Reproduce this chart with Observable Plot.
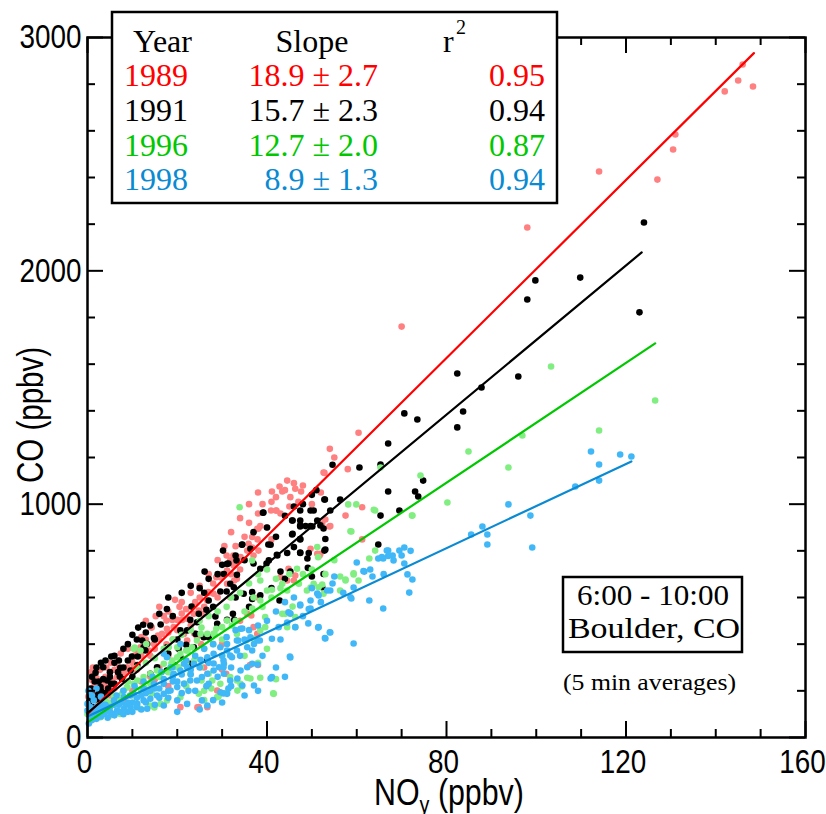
<!DOCTYPE html>
<html>
<head>
<meta charset="utf-8">
<script src="https://cdn.jsdelivr.net/npm/d3@7"></script>
<script src="https://cdn.jsdelivr.net/npm/@observablehq/plot@0.6"></script>
<style>
  html, body { margin: 0; padding: 0; background: #fff; }
  #chart { position: relative; width: 826px; height: 814px; }
</style>
</head>
<body>
<div id="chart"></div>
<script>
// ---------- DATA ----------
const years = ["1989", "1991", "1996", "1998"];
const slopeLabels = ["18.9 \u00b1 2.7", "15.7 \u00b1 2.3", "12.7 \u00b1 2.0", "8.9 \u00b1 1.3"];
const r2Labels = ["0.95", "0.94", "0.87", "0.94"];
const lineColors = ["#ff0000", "#000000", "#00c800", "#0a8ad2"];
const dotColors = ["#ff8080", "#000000", "#80ee80", "#40b8f8"];
// fitted line end points (x from 0 to end)
const fitY0 = [100, 105, 65, 90];
const fitX1 = [148.5, 123.5, 126.5, 121.2];
const fitY1 = [2933, 2079, 1689, 1183];

const xTickLabels = [0, 40, 80, 120, 160];
const xMinorTicks = [10, 20, 30, 50, 60, 70, 90, 100, 110, 130, 140, 150];
const yTickLabels = [0, 1000, 2000, 3000];
const yMinorTicks = [200, 400, 600, 800, 1200, 1400, 1600, 1800, 2200, 2400, 2600, 2800];

const pts1989 = [[146,2884],[145,2816],[142,2769],[148.3,2790],[131,2584],[130.5,2520],[127,2391],[114,2426],[98,2186],[70,1761],
[60.4,1306],[54,1237],[52.8,1134],[42.8,1076],[44.5,1101],[43.4,1054],[41.1,1054],[46.3,1066],[47.6,1054],[45.2,1030],[61.2,987],[57.5,951],[54.1,906],[53,934],[42,973],[40.9,973],[38.5,906],[37.8,894],[36.7,859],[35.9,830],[35.6,801],[34.1,773],[33.3,759],[32.6,737],[31.1,716],[29.6,687],[28.7,687],[32.7,673],[31.1,659],[28.1,616],[26.9,623],[26.7,587],[24.8,544],[23.7,530],[22.2,509],[21.1,504],[20,504],[18.9,504],[19.2,473],[17.7,466],[16.6,444],[15.7,437],[14.8,401],[13.7,373],[12.5,387],[11.8,387],[11.1,373],[9.9,337],[8.8,301],[8.1,280],[7.7,273],[6.6,259],[5.5,244],[4.8,230],[4,223],[2.9,201],[2.2,187],[1.4,180],[0.7,159],[0.3,137],[1.8,123],[5.9,230],[10.3,301],[14.2,473],[17.6,399],[21.5,444],[22.2,416],[24.4,430],[25.3,401],[33.3,680],[31.8,601],[35.6,530],[36.5,523],[37,473],[37.8,444],[43,687],[44.5,673],[46,673],[46.3,694],[44.8,723],[49.7,809],[51.2,787],[51.9,787],[36.2,311],[38,311],[30,291],[30.9,273],[24.8,130],[20.7,130],[26.7,130],[28.9,201],[61.2,849],
[0.5,210],[1,245],[1.5,195],[2,255],[2.5,170],[3,240],[3.5,205],[0.8,280],[1.2,300],[2.8,290],[4.2,300],[4.6,250],[5.2,320],[6,290],[6.8,330],[7.4,360],[0.2,175],[3.2,160],[3.8,185],[1.6,225],
[10.5,351],[14.3,471],[17.6,501],[21,531],[25.4,531],[23.8,446],[24.5,129],
[42.1,973],[38.1,896],[37.9,849],[38.1,801],[41,849],[32.5,780],[34,760],[31.8,759],[52.6,1136],[52.3,917],[53.9,904],[51.7,780],[36.7,814],
[12,430],[13,500],[15.2,520],[16,560],[18,540],[19.5,590],[20.5,560],[23,620],[25,650],[27,700],[29,760],[30.5,820],[32,880],[34,940],[36,1000],[38,1050],[18,350],[16,300],[14,260],[12,240],
[3,150],[4,260],[5,180],[6,210],[7,300],[8,250],[9,380],[10,320],[11,290],[12,350],[13,420],[14,350],[15,380],[16,420],[17,520],[18,450],[19,420],[20,460],[21,580],[22,550],[23,480],[24,580],[25,600],[26,560],[27,620],[28,660],[29,600],[30,700],[31,780],[32,700],[33,820],[34,720],[35,860],[36,920],[37,780],[38,960],[39,1000],[40,900],[41,1010],[42,1030],[43,960],[44,1060],[45,990],[46,1090],[47,1010],[48,1080],[50,1000],[52,1050],[55,1200],[58,1150],[8,160],[10,200],[15,250],[18,220],[26,300],[30,400],[34,500],[38,600]];

const pts1991 = [[124,2207],[109.8,1971],[99.8,1959],[98,1877],[123,1822],[82.4,1560],[70.6,1389],[73.5,1363],[87.8,1500],[83.7,1397],[96,1547],[82.4,1329],[67,1260],[60.6,1157],[65.3,1170],[67,1054],[73,1054],[73.7,1033],[74.8,1101],[69.5,973],[65.3,951],[64.8,827],[56.3,1020],[54.6,1169],[52.9,1020],[47.4,973],[49.7,973],[50.4,973],[45.7,930],[47.4,909],[48.6,906],[49.7,906],[51.2,930],[54.1,973],[51.9,909],[39.1,963],[45.7,873],[47.4,851],[53,851],[46,816],[47.4,791],[49.3,791],[53,806],[44.5,791],[42.2,783],[40.8,826],[34.4,826],[30.2,801],[40.4,759],[38.5,723],[43,711],[45.2,711],[49.1,727],[52.6,701],[50,690],[52.3,644],[36.3,809],[31.1,744],[26.1,711],[33.3,697],[30.4,701],[31.8,659],[29.6,626],[31,626],[32.6,644],[36.7,623],[38.5,609],[36.7,594],[34.8,616],[42.8,587],[17.7,551],[27,587],[26.5,547],[24.8,530],[24.4,494],[22.9,504],[28.5,519],[32.4,530],[28.9,487],[31.1,504],[32.7,504],[20.7,459],[22.2,459],[20.3,380],[25.9,430],[27,430],[23.7,387],[22,397],[24.1,444],[16.3,484],[12.4,483],[11.3,471],[12.2,416],[12.5,387],[12.9,373],[14.8,426],[13.3,401],[17.7,387],[9.9,347],[11.2,347],[5.3,347],[3.5,301],[1.8,277],[7.3,299],[6.8,280],[7.2,261],[7.7,251],[5.3,230],[4.4,244],[2.9,216],[1.4,180],[0.7,173],[2.5,187],[15.5,301],[11.1,311],[9.6,287],[14,273],[17.7,287],[19.4,309],[20.7,344],[22.9,316],[26.7,330],[23.2,561],
[0.3,150],[0.8,210],[1.2,130],[2,160],[3,200],[3.5,250],[4,190],[5,280],[6,230],[6,320],[8,300],[9,330],[10,260],[2.5,240],[1,260],[0.5,110],[1.6,240],[4.6,210],
[31.4,746],[33.2,759],[34.5,827],[37,746],[39.2,964],[40.3,827],[42.3,780],[45.6,870],[45.6,930],[47.4,930],[47.4,904],[50.1,904],[52.8,1020],[52.6,896],[47.4,849],[47.4,793],[49,767],[52.8,801],[39.9,746],
[2,300],[3,320],[4,330],[5,260],[6,350],[7,330],[8,380],[9,400],[10,440],[11,420],[13,450],[14,480],[15,420],[16,530],[18,600],[19,520],[21,620],[23,650],[25,640],[27,680],[29,700],[30,740],[33,780],[35,760],[37,880],[40,900],[42,860],[44,950],[46,990],[48,1000],[50,1040],[51,1060],[44,680],[41,640],[36,560],[33,600],[20,420],[18,360],[28,560],[26,620]];

const pts1996 = [[103.3,1590],[126.5,1444],[114,1316],[96.9,1294],[84.9,1226],[93.8,1157],[65.3,1157],[74.2,1123],[80.2,1007],[72.4,951],[58.1,999],[59.9,999],[64.1,973],[58.8,883],[64.1,801],[62.8,767],[59.3,699],[57.5,677],[56.3,690],[56.3,630],
[33.9,987],[63.8,976],[72.3,951],[58.6,884],[51.2,816],[51.4,773],[46.7,723],[36.7,759],[38.5,673],[40,630],[41.1,633],[43.4,659],[44.5,630],[47.1,659],[48.9,630],[50.4,659],[51.5,644],[52.6,616],[57.5,673],[59.3,704],[60.4,673],[38.5,587],[43.4,530],[44.1,530],[45.2,530],[46.3,516],[44.5,473],[46.3,473],[39.6,516],[39.6,473],[38.5,459],[37,423],[35.3,416],[33.3,444],[32.2,480],[31.1,501],[30,473],[28.7,466],[28.1,444],[26.7,444],[25.2,444],[24.4,416],[23.3,387],[22,373],[20.7,359],[20,344],[18.9,330],[17,316],[15.5,287],[14,273],[12.5,259],[11.1,244],[10.3,230],[8.8,216],[7.7,187],[5.9,173],[4,159],[2.5,137],[1,116],[0,101],[10.3,380],[11.8,373],[13.1,401],[18.1,387],[20,387],[20.3,301],[22.9,273],[25.2,301],[27,273],[27.8,244],[29.6,230],[31.8,259],[33.3,244],[34.1,230],[35.6,256],[38.5,256],[41.5,187],[34.4,219],[28.9,173],[31.1,194],[24.8,187],[20.7,173],[17.7,159],[16.3,144],[14,137],[11.8,123],[9.6,116],[7.3,101],[5.1,94],[2.9,87],[1.4,80],
[52.3,656],[49.7,643],[45.7,561],[36.7,553],[36.3,253],[41.4,189],[33.4,201],[29.2,176],
[10.5,386],[8.9,214],[14.3,189],[14.9,129],[21.6,231],[23.8,330],[25.4,244],[27.6,210],[28.3,446],[25.4,471],[22.3,373],[18.7,317],[12.7,214],[6.7,146],[3.1,107],[26,160],
[2,100],[3,140],[4,120],[5,150],[6,180],[7,160],[8,200],[9,240],[10,180],[11,300],[12,200],[13,320],[14,230],[15,340],[16,260],[17,380],[18,280],[19,420],[20,300],[21,440],[22,320],[23,460],[24,340],[25,500],[26,380],[27,520],[28,400],[29,540],[30,420],[31,560],[32,600],[33,500],[34,620],[35,540],[36,660],[37,600],[38,700],[39,560],[40,720],[41,600],[42,680],[43,640],[45,700],[48,700],[50,720],[53,700],[55,760],[35,350],[38,320],[40,380],[42,250],[30,350],[26,200],[22,220]];

const pts1998 = [[121.2,1204],[118.7,1213],[112.2,1226],[114,1170],[114,1101],[108.7,1076],[93.8,999],[98.7,951],[99.1,814],[88,904],[85.5,870],[89.1,870],[89.1,827],
[70.6,814],[69.5,801],[67,801],[67,778],[65.9,767],[64.8,767],[68.2,759],[70.6,746],[61.7,711],[63.5,690],[71.3,699],[72.4,677],[71.7,621],[59.3,643],[58.8,596],[62.8,587],[65.9,553],[59.3,403],
[66.7,801],[65.6,773],[61.5,713],[58.6,601],[53.4,630],[51.5,609],[49.7,587],[49.3,551],[46.3,473],[51.5,473],[52.9,426],[54,451],[45.1,347],[47.4,570],[44.8,537],[42.6,473],[41.1,423],[38.4,416],[37.1,401],[35.6,387],[34.1,466],[33.3,373],[32.2,344],[31.1,373],[30.4,316],[29.3,301],[28.1,287],[26.7,273],[25.5,259],[24.4,244],[22.9,244],[21.5,230],[20,216],[18.5,201],[17,187],[15.5,180],[14,166],[12.5,159],[11.1,144],[9.6,130],[8.1,123],[6.6,116],[5.1,109],[3.6,101],[2.2,94],[0.7,87],[0,116],[0,144],[1.4,159],[2.9,137],[5.9,159],[8.1,173],[10.3,187],[12.5,209],[14.8,230],[17,251],[19.2,273],[20.7,287],[22.2,301],[23.7,316],[25.2,333],[26.7,344],[28.1,359],[29.6,387],[31.1,401],[33.3,416],[36.7,316],[37.1,223],[41.1,259],[26.7,137],[25.5,159],[22.2,144],[20,159],[17,137],[13.3,123],[29.6,194],[31.1,187],[31.8,244],[34.1,287],[35.6,301],[30.4,273],[18.9,301],[17,359],[17.7,344],[20.7,401],[21.5,316],
[54.1,450],[53,424],[51.4,471],[49.2,489],[44.5,493],[45.2,531],[47.4,566],[49.7,553],[51.2,617],[54.1,630],[54.6,660],[45.2,343],[40.8,253],[37.9,313],[36.7,373],[34.5,223],[33.4,253],[31.4,210],[30.3,189],[34.5,467],[33.6,416],[36.3,429],[37.9,416],[31.8,351],[30.3,330],[30.3,301],[28.1,317],
[0.3,60],[0.5,70],[1,75],[1.5,110],[2,130],[3,120],[4,140],[4.5,85],[6,95],[7,140],[8,100],[9,150],[10,110],[11,170],[12,120],[13,190],[15,140],[16,210],[18,170],[19,240],[21,190],[23,270],[24,200],[27,230],[28,160],[32,220],[0.2,200],[1,180],[2,210],[3,175],[0.6,130],
[0.5,95],[1,100],[1.5,85],[2,80],[2.5,120],[3,90],[3.5,140],[4,110],[5,130],[5.5,100],[6,140],[6.5,180],[7,110],[7.5,150],[8,200],[8.5,140],[9,110],[9.5,180],[10,150],[10.5,220],[11,130],[12,180],[12.5,240],[13,150],[14,200],[14.5,260],[15,210],[16,170],[16.5,280],[17,230],[18,200],[18.5,300],[19,260],[20,240],[21,270],[22,330],[22.5,200],[23,290],[24,350],[25,300],[26,380],[26.5,220],[27,320],[28,400],[29,260],[30,350],[31,430],[32,300],[33,460],[34,350],[35,420],[36,460],[38,480],[39,350],[40,500],[42,540],[43,420],[44,580],[46,600],[48,520],[50,640],[52,580],[55,690],[57,620],[60,750],[63,720],[66,700],[68,780],[70,780],[72,800],[38,200],[35,180],[42,300],[44,260],[25,120],[20,110],[30,150]];

const seriesPoints = [pts1989, pts1991, pts1996, pts1998];

// ---------- BUILD ----------
const W = 826, H = 814;
const mL = 87, mR = 21, mT = 37, mB = 77;
const pw = W - mL - mR, ph = H - mT - mB;
const sans = '"Liberation Sans", Arial, Helvetica, sans-serif';
const serif = '"Liberation Serif", "Times New Roman", serif';

const dotMarks = seriesPoints.map((pts, i) =>
  Plot.dot(pts, {x: d => d[0], y: d => d[1], r: 3.3, fill: dotColors[i], stroke: "none"}));
const lineMarks = years.map((yr, i) =>
  Plot.line([[0, fitY0[i]], [fitX1[i], fitY1[i]]], {x: d => d[0], y: d => d[1], stroke: lineColors[i], strokeWidth: 2.2}));

const minorLen = 8, majorLen = 16;
const svg = Plot.plot({
  width: W, height: H,
  marginLeft: mL, marginRight: mR, marginTop: mT, marginBottom: mB,
  x: {domain: [0, 160]},
  y: {domain: [0, 3000]},
  style: {background: "white", fontFamily: sans},
  marks: [
    ...dotMarks,
    ...lineMarks,
    Plot.tickX(xMinorTicks, {x: d => d, insetTop: ph - minorLen, strokeWidth: 2}),
    Plot.tickX(xTickLabels, {x: d => d, insetTop: ph - majorLen, strokeWidth: 2}),
    Plot.tickX(xMinorTicks, {x: d => d, insetBottom: ph - minorLen, strokeWidth: 2}),
    Plot.tickX(xTickLabels, {x: d => d, insetBottom: ph - majorLen, strokeWidth: 2}),
    Plot.tickY(yMinorTicks, {y: d => d, insetRight: pw - minorLen, strokeWidth: 2}),
    Plot.tickY(yTickLabels, {y: d => d, insetRight: pw - majorLen, strokeWidth: 2}),
    Plot.tickY(yMinorTicks, {y: d => d, insetLeft: pw - minorLen, strokeWidth: 2}),
    Plot.tickY(yTickLabels, {y: d => d, insetLeft: pw - majorLen, strokeWidth: 2}),
    Plot.frame({stroke: "black", strokeWidth: 2.5}),
    Plot.axisX({ticks: xTickLabels, tickFormat: d => String(d), tickSize: 0, tickPadding: 11, dx: -3, label: null, fontSize: 34, fontFamily: sans, fill: "black"}),
    Plot.axisY({ticks: yTickLabels, tickFormat: d => String(d), tickSize: 0, tickPadding: 6, label: null, fontSize: 34, fontFamily: sans, fill: "black"})
  ]
});

const s = d3.select(svg);
// axis titles
const xt = s.append("text").attr("class", "narrow").attr("x", 449).attr("y", 805).attr("text-anchor", "middle")
  .style("font-family", sans).style("font-size", "37px").attr("fill", "black");
xt.append("tspan").text("NO");
xt.append("tspan").text("y").attr("dy", 8).style("font-size", "24px");
xt.append("tspan").text(" (ppbv)").attr("dy", -8);

s.append("text").attr("class", "narrow").attr("transform", "translate(43,415) rotate(-90)").attr("text-anchor", "middle")
  .style("font-family", sans).style("font-size", "36px").attr("fill", "black").text("CO (ppbv)");

// legend box
const lg = s.append("g").style("font-family", serif).style("font-size", "32px").attr("text-anchor", "start");
lg.append("rect").attr("x", 112).attr("y", 12).attr("width", 445).attr("height", 191)
  .attr("fill", "white").attr("stroke", "black").attr("stroke-width", 2.5);
lg.append("text").attr("x", 133).attr("y", 52).attr("text-anchor", "start").text("Year");
lg.append("text").attr("x", 312).attr("y", 52).attr("text-anchor", "middle").text("Slope");
lg.append("text").attr("x", 443).attr("y", 52).attr("text-anchor", "start").text("r");
lg.append("text").attr("x", 456).attr("y", 34).attr("text-anchor", "start").style("font-size", "20px").text("2");
const rowY = [86, 121, 156, 190];
years.forEach((yr, i) => {
  lg.append("text").attr("x", 124).attr("y", rowY[i]).attr("text-anchor", "start").attr("fill", lineColors[i]).text(yr);
  lg.append("text").attr("x", 378).attr("y", rowY[i]).attr("text-anchor", "end").attr("fill", lineColors[i]).text(slopeLabels[i]);
  lg.append("text").attr("x", 545).attr("y", rowY[i]).attr("text-anchor", "end").attr("fill", lineColors[i]).text(r2Labels[i]);
});

// annotation box
const an = s.append("g").style("font-family", serif);
an.append("rect").attr("x", 563).attr("y", 577).attr("width", 179).attr("height", 75)
  .attr("fill", "white").attr("stroke", "black").attr("stroke-width", 2.5);
an.append("text").attr("x", 577).attr("y", 605).attr("text-anchor", "start").attr("textLength", 152).attr("lengthAdjust", "spacingAndGlyphs").style("font-size", "30px").text("6:00 - 10:00");
an.append("text").attr("x", 568).attr("y", 638).attr("text-anchor", "start").attr("textLength", 172).attr("lengthAdjust", "spacingAndGlyphs").style("font-size", "30px").text("Boulder, CO");
an.append("text").attr("x", 563).attr("y", 690).attr("text-anchor", "start").attr("textLength", 173).attr("lengthAdjust", "spacingAndGlyphs").style("font-size", "23px").text("(5 min averages)");

document.getElementById("chart").appendChild(svg);

// condense the sans-serif axis texts (the original uses a narrow Helvetica)
s.selectAll('g[aria-label$="tick label"] text, text.narrow').each(function() {
  const w = this.getComputedTextLength();
  if (w > 0) {
    this.setAttribute("textLength", (w * 0.82).toFixed(1));
    this.setAttribute("lengthAdjust", "spacingAndGlyphs");
  }
});
</script>
</body>
</html>
